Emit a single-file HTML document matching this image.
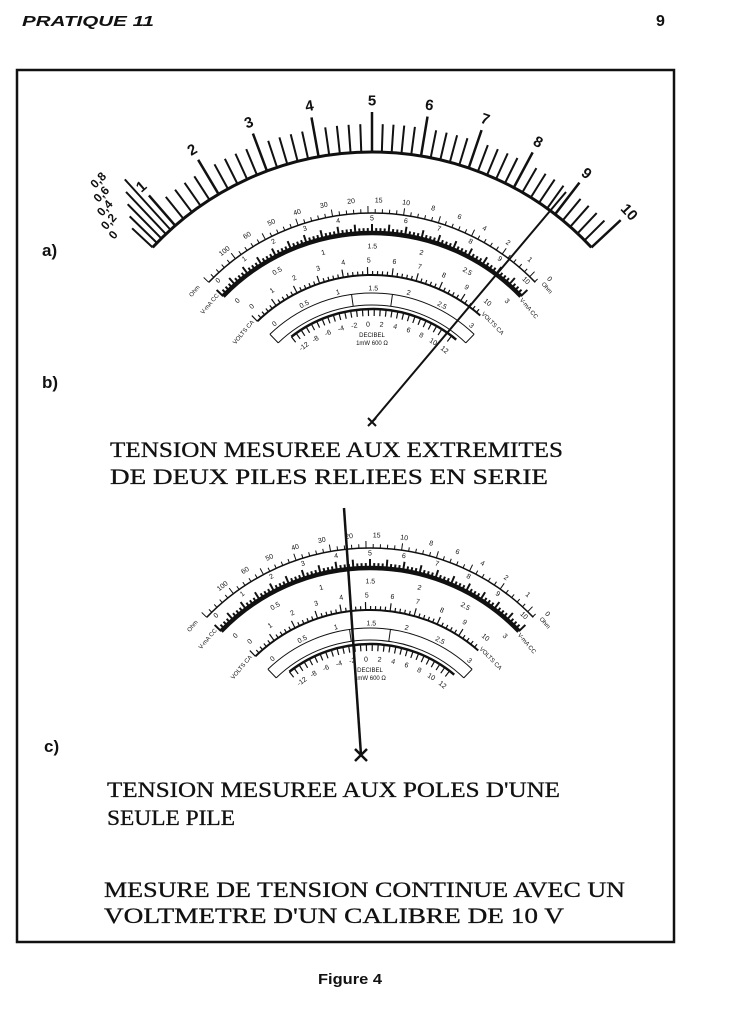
<!DOCTYPE html>
<html><head><meta charset="utf-8">
<style>
html,body{margin:0;padding:0;background:#fff;}
svg{display:block;}
.t{font-family:"Liberation Serif",serif;font-size:22px;fill:#111;stroke:#111;stroke-width:0.3;}
</style></head>
<body>
<svg id="sv" width="741" height="1024" viewBox="0 0 741 1024" xmlns="http://www.w3.org/2000/svg">
<text x="22" y="26" font-family="Liberation Sans,sans-serif" font-size="15" font-weight="bold" font-style="italic" fill="#111" textLength="132" lengthAdjust="spacingAndGlyphs">PRATIQUE 11</text>
<text x="656" y="26" font-family="Liberation Sans,sans-serif" font-size="16" font-weight="bold" fill="#111">9</text>
<rect x="17" y="70" width="657" height="872" fill="none" stroke="#111" stroke-width="2.5"/>
<g font-family="Liberation Sans,sans-serif" font-size="17" font-weight="bold" fill="#111">
<text x="42" y="256">a)</text><text x="42" y="388">b)</text><text x="44" y="752">c)</text>
</g>
<text class="t" x="110" y="457" textLength="453" lengthAdjust="spacingAndGlyphs">TENSION MESUREE AUX EXTREMITES</text>
<text class="t" x="110" y="484" textLength="438" lengthAdjust="spacingAndGlyphs">DE DEUX PILES RELIEES EN SERIE</text>
<text class="t" x="107" y="797" textLength="453" lengthAdjust="spacingAndGlyphs">TENSION MESUREE AUX POLES D'UNE</text>
<text class="t" x="107" y="825" textLength="128" lengthAdjust="spacingAndGlyphs">SEULE PILE</text>
<text class="t" x="104" y="897" textLength="521" lengthAdjust="spacingAndGlyphs">MESURE DE TENSION CONTINUE AVEC UN</text>
<text class="t" x="104" y="923" textLength="460" lengthAdjust="spacingAndGlyphs">VOLTMETRE D'UN CALIBRE DE 10 V</text>
<text x="318" y="984" font-family="Liberation Sans,sans-serif" font-size="15" font-weight="bold" fill="#111" textLength="64" lengthAdjust="spacingAndGlyphs">Figure 4</text>
<g id="g"></g>
</svg>
<script>
var g=document.getElementById('g'),NS='http://www.w3.org/2000/svg';
function el(n,a,t){var e=document.createElementNS(NS,n);for(var k in a)e.setAttribute(k,a[k]);if(t!==undefined)e.textContent=t;g.appendChild(e);return e;}
function P(cx,cy,r,a){var d=a*Math.PI/180;return [cx+r*Math.sin(d),cy-r*Math.cos(d)];}
function arc(cx,cy,r,a1,a2,w){var p=P(cx,cy,r,a1),q=P(cx,cy,r,a2);el('path',{d:'M'+p[0]+' '+p[1]+' A'+r+' '+r+' 0 0 1 '+q[0]+' '+q[1],fill:'none',stroke:'#111','stroke-width':w});}
function tick(cx,cy,r1,r2,a,w){var p=P(cx,cy,r1,a),q=P(cx,cy,r2,a);el('line',{x1:p[0],y1:p[1],x2:q[0],y2:q[1],stroke:'#111','stroke-width':w});}
function lab(cx,cy,r,a,txt,sz,bold){var p=P(cx,cy,r,a);el('text',{x:p[0],y:p[1]+sz*0.35,'font-size':sz,'font-family':'Liberation Sans,sans-serif','font-weight':bold?'bold':'normal','text-anchor':'middle',fill:'#111',transform:'rotate('+a+' '+p[0]+' '+p[1]+')'},txt);}
var cx=372,cy=452,R=300;
function ang(v){return v<1? -47+v*6 : (v<=5? -41+(v-1)*10.25 : (v-5)*9.4);}
arc(cx,cy,R,-47,47,3);
for(var v=1;v<=10.001;v+=0.2){var a=ang(v);var maj=Math.abs(v-Math.round(v))<0.01;tick(cx,cy,R,R+(maj?40:28),a,maj?2.5:2);}
for(var i=1;i<=10;i++)lab(cx,cy,R+52,ang(i),String(i),15,true);
[[0,'0'],[0.2,'0,2'],[0.4,'0,4'],[0.6,'0,6'],[0.8,'0,8']].forEach(function(x,i){var a=ang(x[0]);tick(cx,cy,R,R+28+i*10,a,2);lab(cx,cy,R+38+i*12,a-3,x[1],12,true);});
function face(cx,cy){
 arc(cx,cy,227,-46,46,1.5);
 for(var a=-46;a<=46;a+=1.8)tick(cx,cy,227,227+((Math.round((a+46)/1.8)%5==0)?7:4),a,1);
 var ol=['100','60','50','40','30','20','15','10','8','6','4','2','1','0'];
 ol.forEach(function(t,i){lab(cx,cy,240,-38+i*6.6,t,7);});
 arc(cx,cy,207,-46,46,4.5);
 for(var a=-46;a<=46;a+=1.15)tick(cx,cy,207,207+((Math.round((a+46)/1.15)%4==0)?9:5),a,2);
 for(var i=0;i<=10;i++)lab(cx,cy,222,-44+i*8.8,String(i),7);
 ['0','0.5','1','1.5','2','2.5','3'].forEach(function(t,i){lab(cx,cy,194,-44+i*14.7,t,7);});
 arc(cx,cy,165,-44,41,2);
 for(var a=-44;a<=41;a+=1.7)tick(cx,cy,165,165+((Math.round((a+44)/1.7)%5==0)?8:4),a,1.2);
 for(var i=0;i<=10;i++)lab(cx,cy,180,-42+i*8.2,String(i),7);
 ['0','0.5','1','1.5','2','2.5','3'].forEach(function(t,i){lab(cx,cy,152,-40+i*13.5,t,7);});
 arc(cx,cy,147,-44,44,1);arc(cx,cy,135,-44,44,1);
 tick(cx,cy,135,147,-44,1);tick(cx,cy,135,147,44,1);
 tick(cx,cy,135,147,-8,1);tick(cx,cy,135,147,8,1);
 arc(cx,cy,131,-38,40,2.5);
 for(var a=-38;a<=40;a+=2.6)tick(cx,cy,131,124,a,1.2);
 ['-12','-8','-6','-4','-2','0','2','4','6','8','10','12'].forEach(function(t,i){lab(cx,cy,116,-36+i*6.8,t,7);});
 lab(cx,cy,105,0,'DECIBEL',6);lab(cx,cy,97,0,'1mW 600 \u03a9',6);
 lab(cx,cy,212,-50,'V-mA CC',6);lab(cx,cy,205,50,'V-mA CC',6);
 lab(cx,cy,168,-50,'VOLTS CA',6);lab(cx,cy,168,46,'VOLTS CA',6);
 lab(cx,cy,232,-50,'Ohm',6);lab(cx,cy,232,49,'Ohm',6);
}
face(372,440);face(370,775);
el('line',{x1:372,y1:422,x2:566,y2:192,stroke:'#111','stroke-width':2});
el('path',{d:'M368 418 L376 426 M376 418 L368 426',stroke:'#111','stroke-width':2});
el('line',{x1:361,y1:755,x2:344,y2:508,stroke:'#111','stroke-width':2.5});
el('path',{d:'M355 749 L367 761 M367 749 L355 761',stroke:'#111','stroke-width':2.5});
</script>
</body></html>
